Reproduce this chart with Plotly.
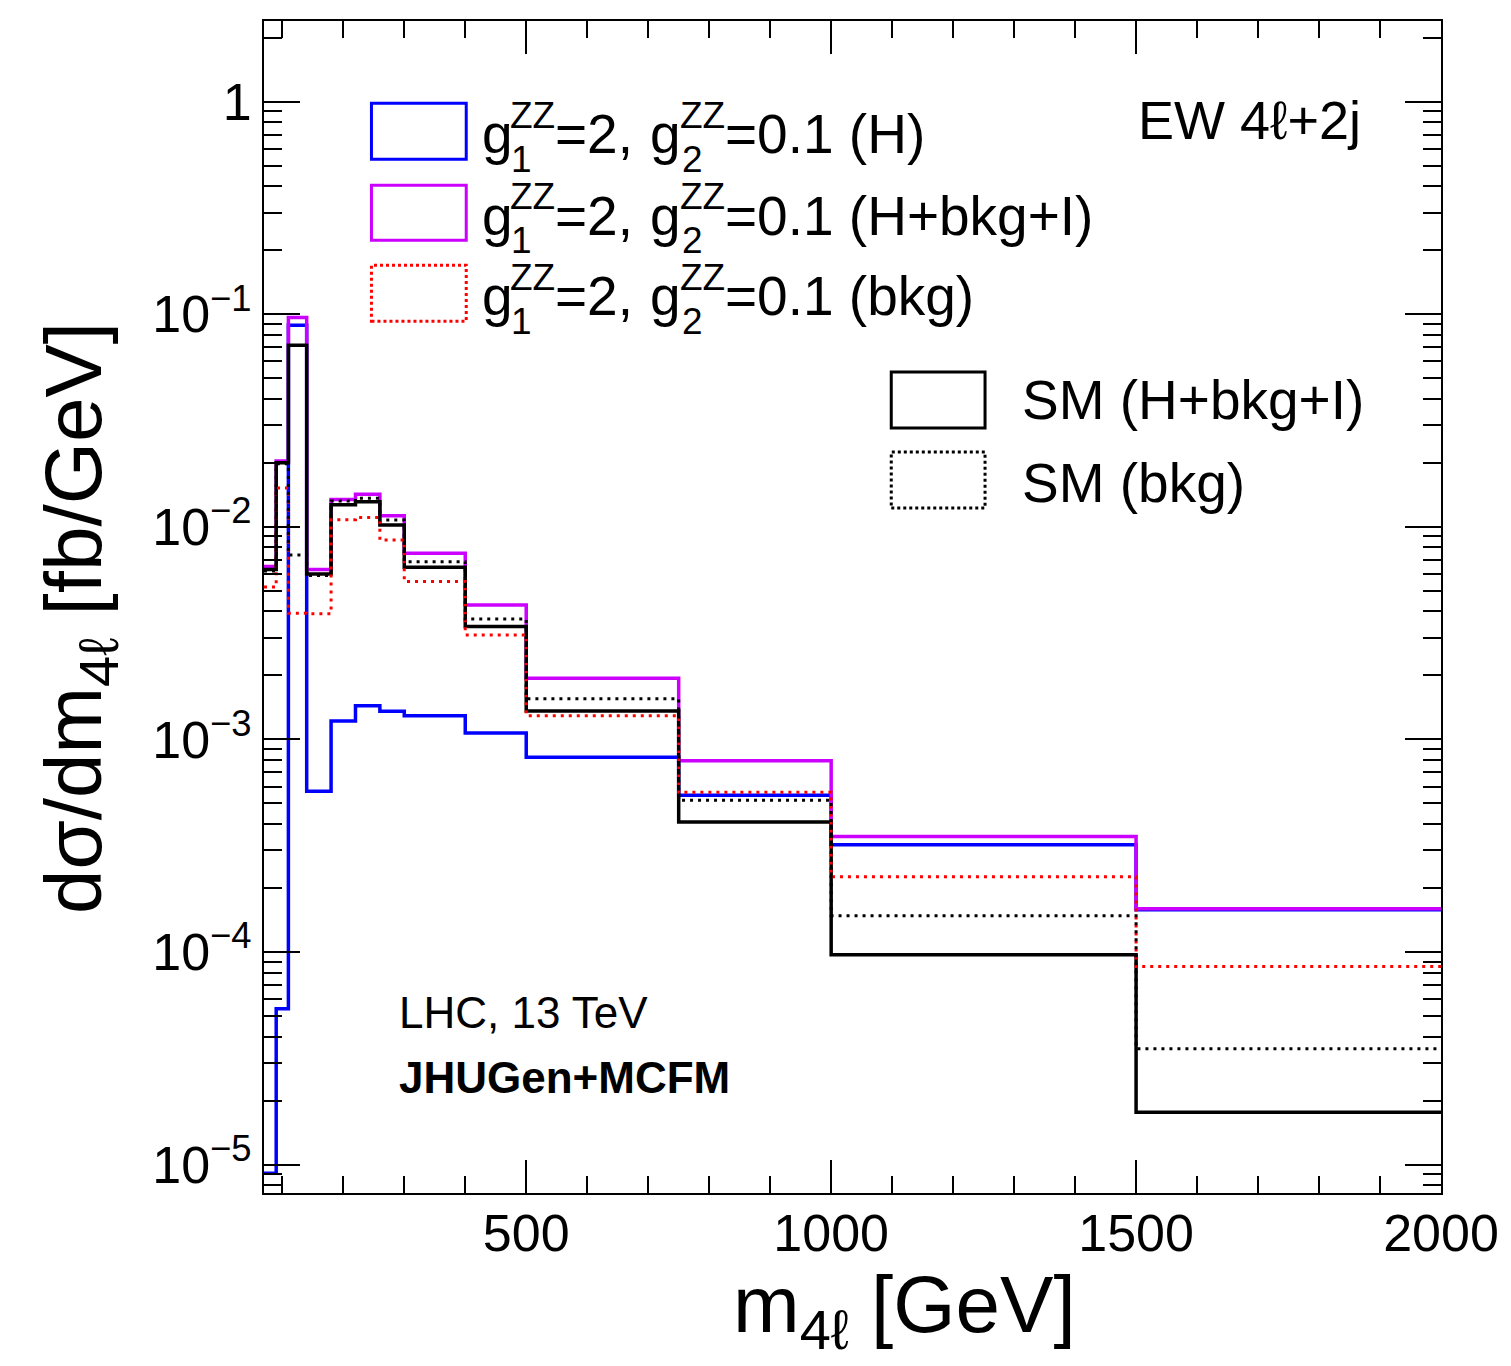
import plotly.graph_objects as go

# ---------------- data ----------------
edges = [70, 90, 110, 140, 180, 220, 260, 300, 400, 500, 750, 1000, 1500, 2000]

bsm_H = [9.1e-6, 5.4e-5, 0.0888, 5.7e-4, 1.22e-3, 1.44e-3, 1.355e-3, 1.29e-3,
         1.07e-3, 8.24e-4, 5.46e-4, 3.19e-4, 1.58e-4]
bsm_HbkgI = [6.5e-3, 0.0204, 0.0965, 6.3e-3, 0.01345, 0.0142, 0.01127, 7.5e-3,
             4.28e-3, 1.94e-3, 7.94e-4, 3.49e-4, 1.596e-4]
bsm_bkg = [5.2e-3, 0.0152, 3.92e-3, 3.9e-3, 0.0108, 0.01106, 8.66e-3, 5.52e-3,
           3.1e-3, 1.29e-3, 5.64e-4, 2.26e-4, 8.55e-5]
sm_HbkgI = [6.3e-3, 0.0200, 0.0715, 6.0e-3, 0.0127, 0.0131, 0.0102, 6.45e-3,
            3.39e-3, 1.36e-3, 4.08e-4, 9.7e-5, 1.76e-5]
sm_bkg = [6.2e-3, 0.0198, 7.36e-3, 5.9e-3, 0.0132, 0.0136, 0.01076, 6.85e-3,
          3.68e-3, 1.55e-3, 5.17e-4, 1.48e-4, 3.5e-5]

y_tickvals = [1e-5, 1e-4, 1e-3, 1e-2, 1e-1, 1]
y_ticktext = ["10<sup>\u22125</sup>", "10<sup>\u22124</sup>", "10<sup>\u22123</sup>",
              "10<sup>\u22122</sup>", "10<sup>\u22121</sup>", "1"]
x_tickvals = [500, 1000, 1500, 2000]

# ---------------- styling ----------------
FONT = "Liberation Sans"
W, H = 1511, 1366
X0, X1, Y0, Y1 = 264.3, 1444.0, 20.7, 1193.3


def px(x):
    return (x - X0) / (X1 - X0)


def py(y):
    return (Y1 - y) / (Y1 - Y0)


def step(vals):
    return list(vals) + [vals[-1]]


fig = go.Figure()
series = [
    (bsm_H, "#0000ff", "solid", 3.5),
    (bsm_HbkgI, "#cc00ff", "solid", 3.5),
    (sm_HbkgI, "black", "solid", 3.5),
    (bsm_bkg, "#ff0000", "3px,5px", 3),
    (sm_bkg, "black", "3px,5px", 3),
]
for vals, col, dash, w in series:
    fig.add_trace(go.Scatter(x=edges, y=step(vals), mode="lines",
                             line=dict(color=col, width=w, dash=dash, shape="hv"),
                             showlegend=False, hoverinfo="skip"))

minor_y = [m * 10 ** e for e in range(-6, 1) for m in range(2, 10)]
minor_x = [v for v in range(100, 2001, 100) if v % 500 != 0]

fig.update_layout(
    width=W, height=H,
    margin=dict(l=264, r=67, t=21, b=173),
    paper_bgcolor="white", plot_bgcolor="white",
    font=dict(family=FONT, color="black", size=52),
    showlegend=False,
    xaxis=dict(range=[70, 2000], showgrid=False, zeroline=False,
               showline=True, linecolor="black", linewidth=2, mirror="allticks",
               ticks="inside", ticklen=33, tickwidth=2, tickcolor="black",
               tickmode="array", tickvals=x_tickvals,
               ticktext=[str(v) for v in x_tickvals],
               ticklabelstandoff=-6,
               tickfont=dict(family=FONT, size=52),
               minor=dict(tickmode="array", tickvals=minor_x, ticks="inside",
                          ticklen=17, tickwidth=2, tickcolor="black", showgrid=False)),
    yaxis=dict(type="log", range=[-5.134, 0.379], showgrid=False, zeroline=False,
               showline=True, linecolor="black", linewidth=2, mirror="allticks",
               ticks="inside", ticklen=36, tickwidth=2, tickcolor="black",
               tickmode="array", tickvals=y_tickvals, ticktext=y_ticktext,
               tickfont=dict(family=FONT, size=52),
               minor=dict(tickmode="array", tickvals=minor_y, ticks="inside",
                          ticklen=18, tickwidth=2, tickcolor="black", showgrid=False)),
)

annots = []


def txt(x, y, s, size, xanchor="left", yanchor="middle", angle=0):
    annots.append(dict(x=px(x), y=py(y), xref="paper", yref="paper", text=s,
                       showarrow=False, xanchor=xanchor, yanchor=yanchor,
                       textangle=angle, font=dict(family=FONT, size=size, color="black")))


# axis titles
txt(906, 1311, "m<sub>4\u2113</sub> [GeV]", 80, xanchor="center")
txt(80, 618, "d\u03c3/dm<sub>4\u2113</sub> [fb/GeV]", 80, xanchor="center", angle=-90)

# other labels
txt(1138, 120, "EW 4\u2113+2j", 54)
txt(398, 1013, "LHC, 13 TeV", 44)
txt(398, 1078, "<b>JHUGen+MCFM</b>", 44)

# legend boxes
shapes = []
boxes = [
    (372, 467, 103, 159, "#0000ff", "solid"),
    (372, 467, 185, 240, "#cc00ff", "solid"),
    (372, 467, 265, 321, "#ff0000", "dot"),
    (893, 987, 372, 428, "black", "solid"),
    (893, 987, 452, 508, "black", "dot"),
]
for xa, xb, ya, yb, col, dash in boxes:
    shapes.append(dict(type="rect", xref="paper", yref="paper",
                       x0=px(xa), x1=px(xb), y0=py(yb), y1=py(ya),
                       line=dict(color=col, width=3, dash=dash),
                       fillcolor="rgba(0,0,0,0)"))

legend_labels = ["(H)", "(H+bkg+I)", "(bkg)"]
for (xa, xb, ya, yb, col, dash), lab in zip(boxes[:3], legend_labels):
    mid = (ya + yb) / 2 + 3
    txt(481, mid, "g", 55)
    txt(509, mid - 19, "ZZ", 37)
    txt(510, mid + 25, "1", 37)
    txt(554, mid, "=2,", 55)
    txt(649, mid, "g", 55)
    txt(679, mid - 19, "ZZ", 37)
    txt(681, mid + 25, "2", 37)
    txt(724, mid, "=0.1 " + lab, 55)

txt(1022, 400, "SM (H+bkg+I)", 55)
txt(1022, 483, "SM (bkg)", 55)

fig.update_layout(annotations=annots, shapes=shapes)
fig.write_html("out.html")
